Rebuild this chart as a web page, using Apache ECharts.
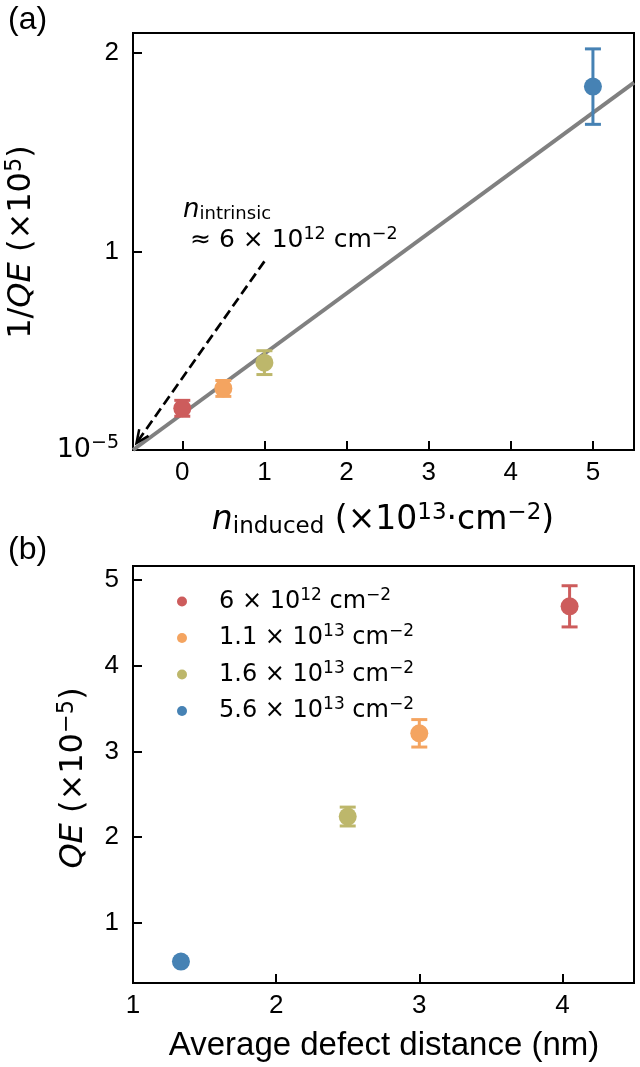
<!DOCTYPE html>
<html>
<head>
<meta charset="utf-8">
<script src="https://cdn.jsdelivr.net/npm/echarts@6/dist/echarts.min.js"></script>
<style>
  html, body { margin: 0; padding: 0; background: #fff; }
  #chart { width: 640px; height: 1067px; }
</style>
</head>
<body>
<div id="chart"></div>
<script>
// panel (a): 1/QE vs induced carrier density
const nInduced = [0, 0.5, 1, 5];
const invQE = [0.21, 0.31, 0.44, 1.83];
const invQEErr = [0.04, 0.04, 0.06, 0.19];
const fitX = [-0.6, 5.5];
const fitY = [0, 1.85];
const arrowX = [1.0, -0.557];
const arrowY = [0.95, 0.035];
const xTicksA = [0, 1, 2, 3, 4, 5];
const yTicksA = [0, 1, 2];

// panel (b): QE vs average defect distance
const defectDist = [4.05, 3.0, 2.5, 1.335];
const qe = [4.69, 3.21, 2.24, 0.55];
const qeErr = [0.24, 0.16, 0.11, 0.03];
const densityBase = ['6', '1.1', '1.6', '5.6'];
const densityExp = ['12', '13', '13', '13'];
const xTicksB = [1, 2, 3, 4];
const yTicksB = [1, 2, 3, 4, 5];

const colors = ['#cd5c5c', '#f4a460', '#bdb76b', '#4682b4'];

const MATH = 'DejaVu Sans';
const SANS = 'Liberation Sans';

const chart = echarts.init(document.getElementById('chart'), null, { renderer: 'canvas' });

const errorBar = (params, api) => {
  const x = api.value(0), y = api.value(1), e = api.value(2);
  const top = api.coord([x, y + e]);
  const bot = api.coord([x, y - e]);
  const c = colors[params.dataIndex % colors.length];
  const hw = 8;
  const st = { stroke: c, lineWidth: 3 };
  return {
    type: 'group',
    children: [
      { type: 'line', shape: { x1: top[0], y1: top[1], x2: bot[0], y2: bot[1] }, style: st },
      { type: 'line', shape: { x1: top[0] - hw, y1: top[1], x2: top[0] + hw, y2: top[1] }, style: st },
      { type: 'line', shape: { x1: bot[0] - hw, y1: bot[1], x2: bot[0] + hw, y2: bot[1] }, style: st }
    ]
  };
};

// dashed arrow with open head (matplotlib "->")
const dashedArrow = (params, api) => {
  const p0 = api.coord([api.value(0), api.value(1)]);
  const p1 = api.coord([api.value(2), api.value(3)]);
  const ang = Math.atan2(p1[1] - p0[1], p1[0] - p0[0]);
  const len = 14, spread = 0.42;
  const a1 = [p1[0] - len * Math.cos(ang - spread), p1[1] - len * Math.sin(ang - spread)];
  const a2 = [p1[0] - len * Math.cos(ang + spread), p1[1] - len * Math.sin(ang + spread)];
  return {
    type: 'group',
    children: [
      { type: 'line', shape: { x1: p0[0], y1: p0[1], x2: p1[0], y2: p1[1] },
        style: { stroke: '#000', lineWidth: 2.7, lineDash: [10, 5] } },
      { type: 'polyline', shape: { points: [a1, p1, a2] },
        style: { stroke: '#000', lineWidth: 2.5, fill: null } }
    ]
  };
};

const axisCommon = {
  axisLine: { onZero: false, lineStyle: { color: '#000', width: 2 } },
  splitLine: { show: false }
};

const tickStyle = (vals) => ({
  inside: true, length: 9, customValues: vals,
  lineStyle: { color: '#000', width: 2 }
});

const labelStyle = (vals, margin) => ({
  customValues: vals, color: '#000', fontSize: 26, fontFamily: SANS, margin: margin
});

const seriesNames = densityBase.map((b, i) => b + 'e' + densityExp[i]);
const bSeries = seriesNames.map((name, i) => ({
  name: name,
  type: 'scatter',
  xAxisIndex: 1, yAxisIndex: 1,
  symbolSize: 18,
  z: 5,
  itemStyle: { color: colors[i], opacity: 1 },
  data: [[defectDist[i], qe[i]]]
}));

const option = {
  animation: false,
  backgroundColor: '#fff',
  grid: [
    { left: 133, top: 33, width: 501, height: 417, show: true, borderColor: '#000', borderWidth: 2 },
    { left: 133, top: 566, width: 501, height: 417, show: true, borderColor: '#000', borderWidth: 2 }
  ],
  xAxis: [
    Object.assign({ type: 'value', gridIndex: 0, min: -0.6, max: 5.5,
      axisTick: tickStyle(xTicksA), axisLabel: labelStyle(xTicksA, 10) }, axisCommon),
    Object.assign({ type: 'value', gridIndex: 1, min: 1, max: 4.5,
      axisTick: tickStyle(xTicksB), axisLabel: labelStyle(xTicksB, 10) }, axisCommon)
  ],
  yAxis: [
    Object.assign({ type: 'value', gridIndex: 0, min: 0, max: 2.1,
      axisTick: tickStyle(yTicksA),
      axisLabel: Object.assign(labelStyle(yTicksA, 14), {
        formatter: (v) => v === 0 ? '{b|10}{s|−5}' : String(v),
        rich: {
          b: { fontFamily: MATH, fontSize: 27, color: '#000', lineHeight: 32 },
          s: { fontFamily: MATH, fontSize: 19, color: '#000', verticalAlign: 'top', lineHeight: 19 }
        }
      }) }, axisCommon),
    Object.assign({ type: 'value', gridIndex: 1, min: 0.3, max: 5.16,
      axisTick: tickStyle(yTicksB), axisLabel: labelStyle(yTicksB, 14) }, axisCommon)
  ],
  legend: {
    data: seriesNames,
    orient: 'vertical',
    left: 172, top: 582,
    icon: 'circle',
    itemWidth: 10, itemHeight: 10,
    itemGap: 10,
    selectedMode: false,
    formatter: (name) => {
      const i = seriesNames.indexOf(name);
      return '{sp|}{t|' + densityBase[i] + ' × 10}{s|' + densityExp[i] + '}{t| cm}{s|−2}';
    },
    textStyle: {
      rich: {
        sp: { width: 27 },
        t: { fontFamily: MATH, fontSize: 24, color: '#000', lineHeight: 29 },
        s: { fontFamily: MATH, fontSize: 17, color: '#000', verticalAlign: 'top', lineHeight: 16 }
      }
    }
  },
  graphic: [
    { type: 'text', x: 8, y: 20, style: { text: '(a)', font: '32px "Liberation Sans"', fill: '#000', verticalAlign: 'middle' } },
    { type: 'text', x: 8, y: 550, style: { text: '(b)', font: '32px "Liberation Sans"', fill: '#000', verticalAlign: 'middle' } },
    {
      type: 'text', x: 183, y: 210,
      style: {
        text: '{n|n}{sub|intrinsic}', verticalAlign: 'middle',
        rich: {
          n: { fontFamily: MATH, fontStyle: 'italic', fontSize: 26, fill: '#000', lineHeight: 27 },
          sub: { fontFamily: MATH, fontSize: 18, fill: '#000', verticalAlign: 'bottom', lineHeight: 14, padding: [10, 0, 0, 0] }
        }
      }
    },
    {
      type: 'text', x: 190, y: 240,
      style: {
        text: '{t|≈ 6 × 10}{s|12}{t| cm}{s|−2}', verticalAlign: 'middle',
        rich: {
          t: { fontFamily: MATH, fontSize: 25, fill: '#000', lineHeight: 30 },
          s: { fontFamily: MATH, fontSize: 17.5, fill: '#000', verticalAlign: 'top', lineHeight: 17 }
        }
      }
    },
    {
      type: 'text', x: 383, y: 520,
      style: {
        text: '{n|n}{sub|induced}{t| (×10}{s|13}{t|·cm}{s|−2}{t|)}', align: 'center', verticalAlign: 'middle',
        rich: {
          n: { fontFamily: MATH, fontStyle: 'italic', fontSize: 33, fill: '#000', lineHeight: 37 },
          sub: { fontFamily: MATH, fontSize: 23, fill: '#000', verticalAlign: 'bottom', lineHeight: 18, padding: [12, 0, 0, 0] },
          t: { fontFamily: MATH, fontSize: 33, fill: '#000', lineHeight: 37 },
          s: { fontFamily: MATH, fontSize: 23, fill: '#000', verticalAlign: 'top', lineHeight: 22 }
        }
      }
    },
    {
      type: 'text', x: 384, y: 1046,
      style: { text: 'Average defect distance (nm)', font: '33px "Liberation Sans"', fill: '#000', align: 'center', verticalAlign: 'middle' }
    },
    {
      type: 'text', x: 22, y: 242, rotation: Math.PI / 2,
      style: {
        text: '{t|1/}{i|QE}{t| (×10}{s|5}{t|)}', align: 'center', verticalAlign: 'middle',
        rich: {
          t: { fontFamily: MATH, fontSize: 32, fill: '#000', lineHeight: 36 },
          i: { fontFamily: MATH, fontStyle: 'italic', fontSize: 32, fill: '#000', lineHeight: 36 },
          s: { fontFamily: MATH, fontSize: 22.5, fill: '#000', verticalAlign: 'top', lineHeight: 22 }
        }
      }
    },
    {
      type: 'text', x: 74, y: 778, rotation: Math.PI / 2,
      style: {
        text: '{i|QE}{t| (×10}{s|−5}{t|)}', align: 'center', verticalAlign: 'middle',
        rich: {
          t: { fontFamily: MATH, fontSize: 32, fill: '#000', lineHeight: 36 },
          i: { fontFamily: MATH, fontStyle: 'italic', fontSize: 32, fill: '#000', lineHeight: 36 },
          s: { fontFamily: MATH, fontSize: 22.5, fill: '#000', verticalAlign: 'top', lineHeight: 22 }
        }
      }
    }
  ],
  series: [
    {
      name: 'fit',
      type: 'line',
      xAxisIndex: 0, yAxisIndex: 0,
      showSymbol: false,
      z: 2,
      lineStyle: { color: '#808080', width: 4 },
      data: fitX.map((x, i) => [x, fitY[i]])
    },
    {
      type: 'custom',
      xAxisIndex: 0, yAxisIndex: 0,
      z: 3,
      renderItem: dashedArrow,
      data: [[arrowX[0], arrowY[0], arrowX[1], arrowY[1]]]
    },
    {
      type: 'custom',
      xAxisIndex: 0, yAxisIndex: 0,
      z: 3,
      renderItem: errorBar,
      data: nInduced.map((x, i) => [x, invQE[i], invQEErr[i]])
    },
    {
      type: 'scatter',
      xAxisIndex: 0, yAxisIndex: 0,
      symbolSize: 18,
      z: 4,
      itemStyle: { color: (p) => colors[p.dataIndex], opacity: 1 },
      data: nInduced.map((x, i) => [x, invQE[i]])
    },
    {
      type: 'custom',
      xAxisIndex: 1, yAxisIndex: 1,
      z: 3,
      renderItem: errorBar,
      data: defectDist.map((x, i) => [x, qe[i], qeErr[i]])
    }
  ].concat(bSeries)
};

chart.setOption(option);
</script>
</body>
</html>
